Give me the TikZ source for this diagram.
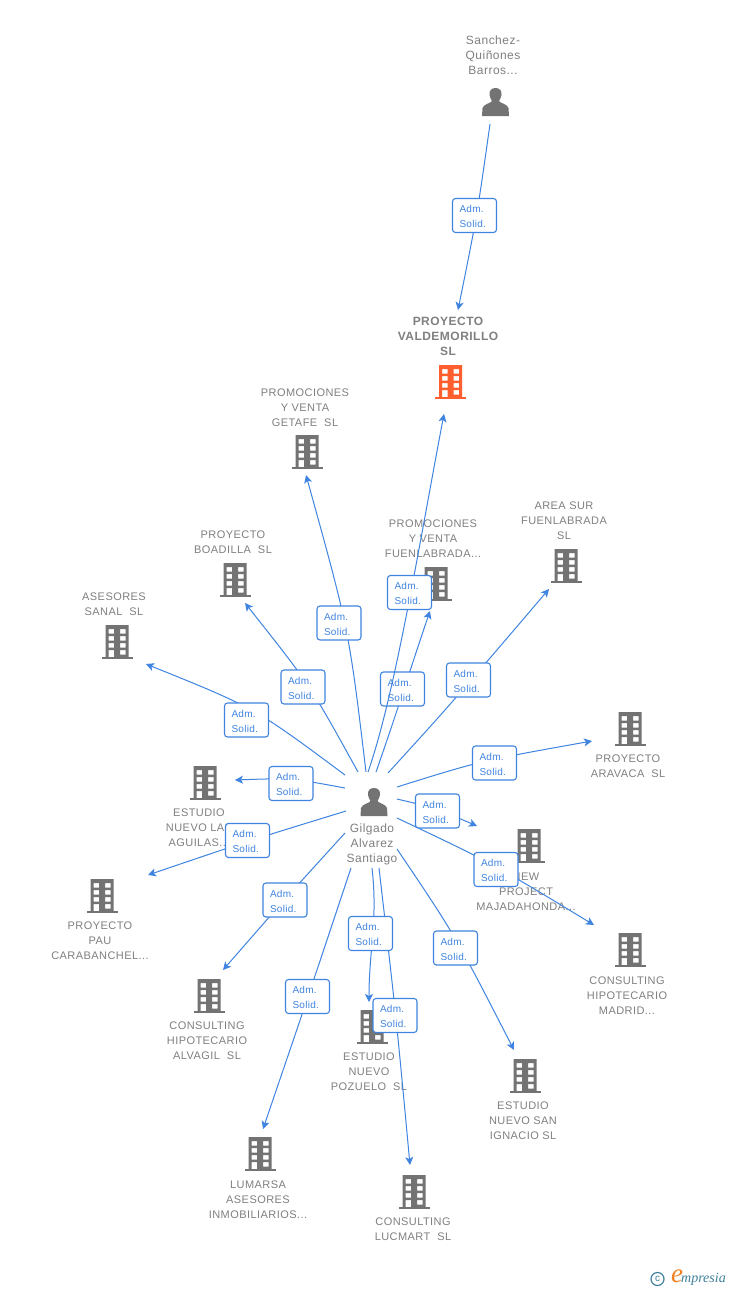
\documentclass[tikz,border=0pt]{standalone}
\usepackage{fontspec}
\setmainfont{Liberation Sans}
\newfontfamily\spacedfont[LetterSpace=4]{Liberation Sans}
\newfontfamily\labfont[LetterSpace=3]{Liberation Sans}
\newfontfamily\logofont{Liberation Serif}
\usetikzlibrary{arrows.meta}
\definecolor{linkblue}{HTML}{3F84E0}
\definecolor{icongray}{HTML}{737373}
\definecolor{textgray}{HTML}{808080}
\definecolor{mainorange}{HTML}{FF5F2E}
\definecolor{logoteal}{HTML}{3F7F9C}
\definecolor{logoorange}{HTML}{F08020}
\newcommand\admsolid{Adm.\\Solid.}
\tikzset{
  x=1pt,y=-1pt,
  conn/.style={draw=linkblue,line width=1pt,-{Stealth[length=8pt,width=8pt,inset=2pt]}},
  lab/.style={draw=linkblue,line width=1.1pt,fill=white,rounded corners=3pt,minimum width=44pt,minimum height=34pt,inner sep=0pt,
     text=linkblue,font=\labfont\fontsize{10}{15}\selectfont,align=left,text width=30pt,text height=9.5pt},
  ent/.style={text=textgray,font=\spacedfont\fontsize{11}{15}\selectfont,align=center,inner sep=0pt,yshift=-1pt},
  personent/.style={ent,font=\spacedfont\fontsize{12}{15}\selectfont},
  mainent/.style={ent,font=\spacedfont\fontsize{12}{15}\selectfont\bfseries},
  pics/bld/.style={code={
    \fill[#1,even odd rule] (-11.5,-17) rectangle (11.5,15)
      (-8.5,-13) rectangle (-3,-8.5) (3,-13) rectangle (8.5,-8.5)
      (-8.5,-6) rectangle (-3,-1.5) (3,-6) rectangle (8.5,-1.5)
      (-8.5,1) rectangle (-3,5.5) (3,1) rectangle (8.5,5.5)
      (-8.5,8) rectangle (-3,15) (3,8) rectangle (8.5,12.5);
    \fill[#1] (-15.5,15) rectangle (15.5,17);
  }},
  pics/bld/.default=icongray,
  pics/person/.style={code={
    \fill[icongray] (0,-14) .. controls (-4.5,-14) and (-6.5,-11) .. (-6,-7) .. controls (-5.7,-4) and (-4,-2.5) .. (-3.5,-1)
      .. controls (-4,1) and (-12,2) .. (-13,6) -- (-13.5,14) -- (13.5,14) -- (13,6)
      .. controls (12,2) and (4,1) .. (3.5,-1) .. controls (4,-2.5) and (5.7,-4) .. (6,-7)
      .. controls (6.5,-11) and (4.5,-14) .. (0,-14) -- cycle;
  }},
}
\begin{document}
\begin{tikzpicture}
\useasboundingbox (0,0) rectangle (728,1290);
\fill[white] (0,0) rectangle (728,1290);
% entity texts
\node[personent] (sanchez) at (493,54) {Sanchez-\\Quiñones\\Barros...};
\node[mainent] (valde) at (448,335) {PROYECTO\\VALDEMORILLO\\SL};
\node[ent] (getafe) at (305,407) {PROMOCIONES\\Y VENTA\\GETAFE\ \ SL};
\node[ent] (boadilla) at (233,541) {PROYECTO\\BOADILLA\ \ SL};
\node[ent] (asesores) at (114,603) {ASESORES\\SANAL\ \ SL};
\node[ent] (fuenla) at (433,538) {PROMOCIONES\\Y VENTA\\FUENLABRADA...};
\node[ent] (areasur) at (564,520) {AREA SUR\\FUENLABRADA\\SL};
\node[ent] (aravaca) at (628,765) {PROYECTO\\ARAVACA\ \ SL};
\node[ent] (aguilas) at (199,827) {ESTUDIO\\NUEVO LAS\\AGUILAS...};
\node[ent] (pau) at (100,940) {PROYECTO\\PAU\\CARABANCHEL...};
\node[personent] (hub) at (372,843) {Gilgado\\Alvarez\\Santiago};
\node[ent] (newp) at (526,891) {NEW\\PROJECT\\MAJADAHONDA...};
\node[ent] (madrid) at (627,995) {CONSULTING\\HIPOTECARIO\\MADRID...};
\node[ent] (alvagil) at (207,1040) {CONSULTING\\HIPOTECARIO\\ALVAGIL\ \ SL};
\node[ent] (pozuelo) at (369,1071) {ESTUDIO\\NUEVO\\POZUELO\ \ SL};
\node[ent] (ignacio) at (523,1120) {ESTUDIO\\NUEVO SAN\\IGNACIO SL};
\node[ent] (lumarsa) at (258,1199) {LUMARSA\\ASESORES\\INMOBILIARIOS...};
\node[ent] (lucmart) at (413,1228) {CONSULTING\\LUCMART\ \ SL};
% icons
\pic at (495.5,102) {person};
\pic at (374,802) {person};
\pic at (450.5,382) {bld=mainorange};
\pic at (307,452) {bld};
\pic at (235,580) {bld};
\pic at (117,642) {bld};
\pic at (436,584) {bld};
\pic at (566,566) {bld};
\pic at (630,729) {bld};
\pic at (205,783) {bld};
\pic at (529,846) {bld};
\pic at (102,896) {bld};
\pic at (630,950) {bld};
\pic at (209,996) {bld};
\pic at (372,1027) {bld};
\pic at (525,1076) {bld};
\pic at (260,1154) {bld};
\pic at (414,1192) {bld};
% connector ends
\coordinate (s0) at (490,124);   \coordinate (e0) at (458,310);
\coordinate (s1) at (368,772);   \coordinate (e1) at (444,414);
\coordinate (s2) at (376,772);   \coordinate (e2) at (430,611);
\coordinate (s3) at (388,773);   \coordinate (e3) at (549,589);
\coordinate (s4) at (397,787);   \coordinate (e4) at (592,741);
\coordinate (s5) at (397,799);   \coordinate (e5) at (477,826);
\coordinate (s6) at (397,818);   \coordinate (e6) at (594,925);
\coordinate (s7) at (397,849);   \coordinate (e7) at (514,1050);
\coordinate (s8) at (379,868);   \coordinate (e8) at (410,1165);
\coordinate (s9) at (372,868);   \coordinate (e9) at (369,1002);
\coordinate (s10) at (351,868);  \coordinate (e10) at (263,1129);
\coordinate (s11) at (345,833);  \coordinate (e11) at (223,970);
\coordinate (s12) at (346,811);  \coordinate (e12) at (148,875);
\coordinate (s13) at (345,788);  \coordinate (e13) at (235,780);
\coordinate (s14) at (345,775);  \coordinate (e14) at (146,664);
\coordinate (s15) at (358,772);  \coordinate (e15) at (245,603);
\coordinate (s16) at (366,772);  \coordinate (e16) at (306,475);
% connectors
\draw[conn] (s0) .. controls (477,216) .. (e0);
\draw[conn] (s3) .. controls (450,705) .. (e3);
\draw[conn] (s4) .. controls (480,761) .. (e4);
\draw[conn] (s5) .. controls (435,808) .. (e5);
\draw[conn] (s6) .. controls (490,862) .. (e6);
\draw[conn] (s7) .. controls (455,935) .. (e7);
\draw[conn] (s8) .. controls (396,1015) .. (e8);
\draw[conn] (s9) .. controls (378,920) and (369,950) .. (e9);
\draw[conn] (s10) .. controls (307,1000) .. (e10);
\draw[conn] (s11) .. controls (284,900) .. (e11);
\draw[conn] (s12) .. controls (245,842) .. (e12);
\draw[conn] (s13) .. controls (291,778) .. (e13);
\draw[conn] (s14) .. controls (255,708) .. (e14);
\draw[conn] (s15) .. controls (310,685) .. (e15);
\draw[conn] (s16) .. controls (349,630) .. (e16);
\draw[conn] (s2) .. controls (396,715) and (410,670) .. (e2);
% label under the Valdemorillo connector
\node[lab] (l2) at (402.5,689) {\admsolid};
\draw[conn] (s1) .. controls (395,695) and (420,540) .. (e1);
% remaining labels
\node[lab] (l0) at (474.5,215.5) {\admsolid};
\node[lab] (l1) at (409.5,592.5) {\admsolid};
\node[lab] (l3) at (468.5,680) {\admsolid};
\node[lab] (l4) at (494.5,763) {\admsolid};
\node[lab] (l5) at (437.5,811) {\admsolid};
\node[lab] (l6) at (496,869.5) {\admsolid};
\node[lab] (l7) at (455.5,948) {\admsolid};
\node[lab] (l8) at (395,1015.5) {\admsolid};
\node[lab] (l9) at (370.5,933.5) {\admsolid};
\node[lab] (l10) at (307.5,996.5) {\admsolid};
\node[lab] (l11) at (285,900) {\admsolid};
\node[lab] (l12) at (247.5,840.5) {\admsolid};
\node[lab] (l13) at (291,783.5) {\admsolid};
\node[lab] (l14) at (246.5,720) {\admsolid};
\node[lab] (l15) at (303,687) {\admsolid};
\node[lab] (l16) at (339,623) {\admsolid};
% logo
\node[circle,draw=logoteal,line width=1.2pt,inner sep=0pt,minimum size=13pt,text=logoteal,font=\fontsize{10}{10}\selectfont] (copyr) at (657.5,1279) {c};
\node[inner sep=0pt,text=logoorange,font=\logofont\itshape\fontsize{27}{27}\selectfont] (logoe) at (677,1276) {e};
\node[inner sep=0pt,anchor=west,text=logoteal,font=\logofont\itshape\fontsize{14}{14}\selectfont] (logot) at (681,1279.5) {mpresia};
\end{tikzpicture}
\end{document}
